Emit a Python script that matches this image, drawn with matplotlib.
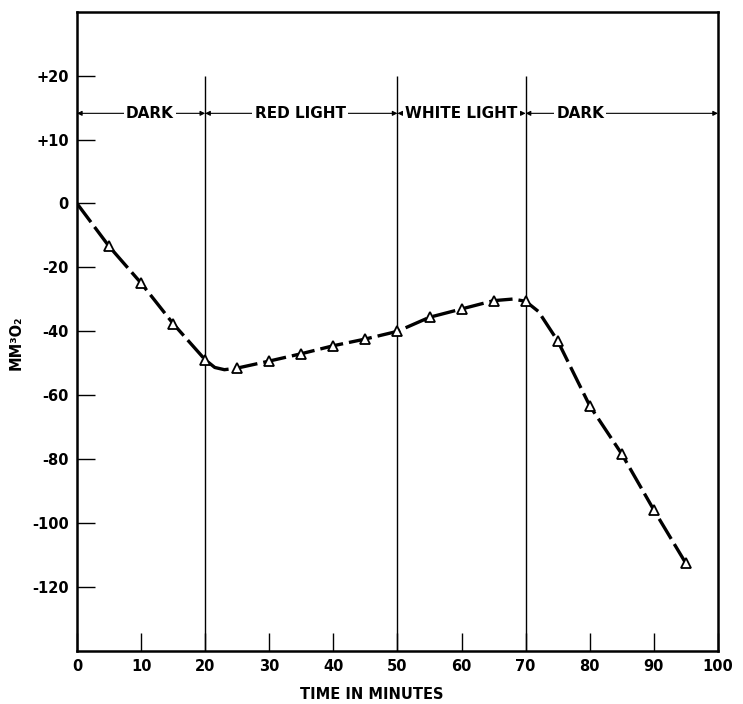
import matplotlib
matplotlib.use("Agg")
import matplotlib.pyplot as plt

# measured points (triangles)
t_min = [5, 10, 15, 20, 25, 30, 35, 40, 45, 50, 55, 60, 65, 70, 75, 80, 85, 90, 95]
o2_vol = [-13.4, -24.9, -37.6, -48.9, -51.5, -49.3, -47.0, -44.5, -42.4, -40.0,
          -35.6, -33.0, -30.4, -30.4, -43.0, -63.3, -78.4, -95.9, -112.6]

# hand-drawn curve through the points
curve_t = [0, 5, 10, 15, 20, 21.5, 23, 25, 30, 35, 40, 45, 50, 55, 60, 65, 68,
           70, 72, 75, 80, 85, 90, 95]
curve_v = [0, -13.4, -24.9, -37.6, -48.9, -51.3, -52.0, -51.5, -49.3, -47.0,
           -44.5, -42.4, -40.0, -35.6, -33.0, -30.4, -29.9, -30.6, -33.8,
           -43.0, -63.3, -78.4, -95.9, -112.6]

# light periods
periods = [(0, 20), (20, 50), (50, 70), (70, 100)]
period_names = ["DARK", "RED LIGHT", "WHITE LIGHT", "DARK"]
name_pos = [11.4, 34.8, 60.0, 78.5]
switch_t = [20, 50, 70]

yticks = [40, 20, 0, -20, -40, -60, -80, -100, -120]
ytick_labels = ["+20", "+10", "0", "-20", "-40", "-60", "-80", "-100", "-120"]
xticks = [0, 10, 20, 30, 40, 50, 60, 70, 80, 90, 100]

fig = plt.figure(figsize=(7.43, 7.04), dpi=100)
ax = fig.add_axes([0.1036, 0.0753, 0.8627, 0.9081])

ax.set_xlim(0, 100)
ax.set_ylim(-140, 60)

# period boundaries
ax.vlines(switch_t, -140, 40, color="black", lw=1.0, zorder=1)

# arrows + labels for the periods
row_y = 28.2
for (a, b), name, xp in zip(periods, period_names, name_pos):
    ax.annotate("", xy=(a, row_y), xytext=(b, row_y),
                arrowprops=dict(arrowstyle="<|-|>", lw=0.8, color="black",
                                mutation_scale=7, shrinkA=0, shrinkB=0),
                zorder=2)
    ax.text(xp, row_y, name, ha="center", va="center", fontsize=11,
            fontweight="bold", zorder=3,
            bbox=dict(facecolor="white", edgecolor="none", pad=1.5))

# curve
ax.plot(curve_t, curve_v, color="black", lw=2.4, dashes=(7, 1.8),
        solid_capstyle="butt", zorder=4)
ax.plot(t_min, o2_vol, linestyle="none", marker="^", markersize=7.5,
        markerfacecolor="white", markeredgecolor="black", markeredgewidth=1.3,
        zorder=5)

ax.set_yticks(yticks)
ax.set_yticklabels(ytick_labels)
ax.set_xticks(xticks)
ax.tick_params(direction="in", length=13, width=1.0, labelsize=10.5, pad=6)
for lab in ax.get_xticklabels() + ax.get_yticklabels():
    lab.set_fontweight("bold")

for sp in ax.spines.values():
    sp.set_linewidth(1.8)

ax.set_xlabel("TIME IN MINUTES", fontsize=10.5, fontweight="bold")
ax.xaxis.set_label_coords(0.46, -0.056)
ax.set_ylabel("MM³O₂", fontsize=10.5, fontweight="bold")
ax.yaxis.set_label_coords(-0.084, 0.482)

fig.savefig("out.png", dpi=100)
